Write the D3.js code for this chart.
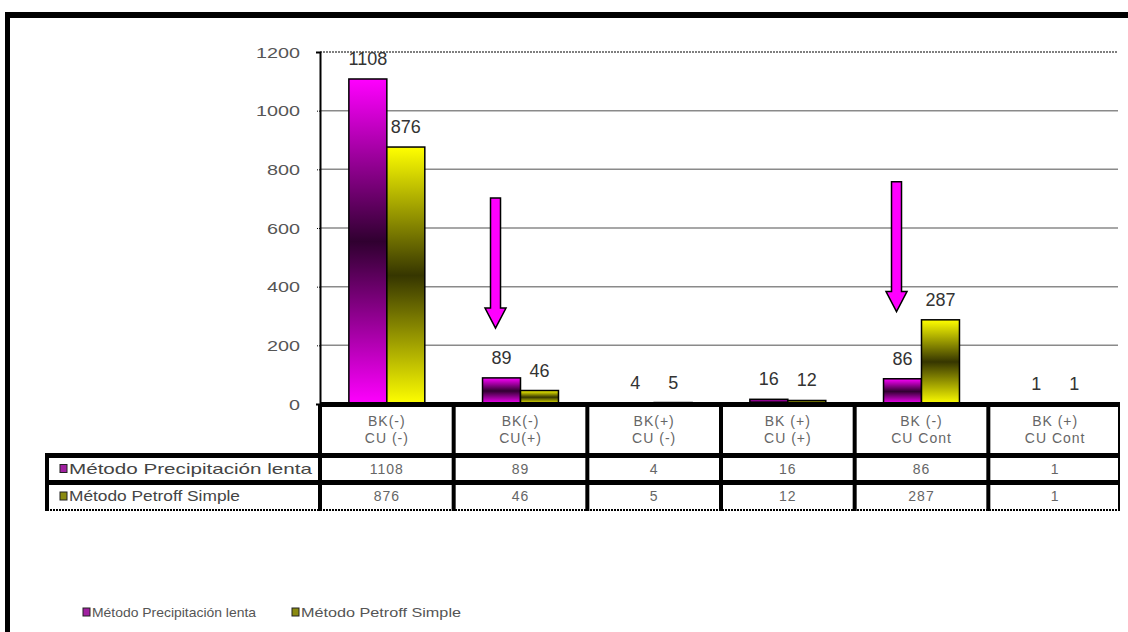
<!DOCTYPE html>
<html><head><meta charset="utf-8">
<script src="https://cdn.jsdelivr.net/npm/d3@7"></script>
<style>body{margin:0;background:#fff}svg{display:block}</style>
</head><body>
<script>
const categories = ["BK(-)|CU (-)", "BK(-)|CU(+)", "BK(+)|CU (-)", "BK (+)|CU (+)", "BK (-)|CU Cont", "BK (+)|CU Cont"];
const seriesNames = ["Método Precipitación lenta", "Método Petroff Simple"];
const precipitacion = [1108, 89, 4, 16, 86, 1];
const petroff = [876, 46, 5, 12, 287, 1];
const yTicks = [0, 200, 400, 600, 800, 1000, 1200];
// annotation arrows: category index, top value, tip value
const arrowCats = [1, 4];
const arrowTop = [702, 758];
const arrowTip = [259, 315];

const W = 1128, H = 632;
const svg = d3.select("body").append("svg").attr("width", W).attr("height", H);
const font = "Arial, 'Liberation Sans', sans-serif";

// frame
svg.append("rect").attr("x", 5).attr("y", 12).attr("width", W).attr("height", 6).attr("fill", "#000");
svg.append("rect").attr("x", 5).attr("y", 12).attr("width", 5).attr("height", H).attr("fill", "#000");

const x = d3.scaleBand().domain(d3.range(categories.length)).range([320, 1122]);
const xs = d3.scaleBand().domain([0, 1]).range([0, x.bandwidth()]).paddingInner(0).paddingOuter(0.76);
const y = d3.scaleLinear().domain([0, 1200]).range([404, 52]);

const defs = svg.append("defs");
function grad(id, bright, dark) {
  const g = defs.append("linearGradient").attr("id", id).attr("x1", 0).attr("y1", 0).attr("x2", 0).attr("y2", 1);
  g.append("stop").attr("offset", "0").attr("stop-color", bright);
  g.append("stop").attr("offset", "0.5").attr("stop-color", dark);
  g.append("stop").attr("offset", "1").attr("stop-color", bright);
}
grad("gm", "#ff00ff", "#300030");
grad("gy", "#ffff00", "#363600");
const fills = ["url(#gm)", "url(#gy)"];

// gridlines
svg.append("g").selectAll("line").data(yTicks.filter(d => d > 0)).join("line")
  .attr("x1", 320).attr("x2", 1118).attr("y1", d => y(d)).attr("y2", d => y(d))
  .attr("stroke", d => d === 1200 ? "#555" : "#8a8a8a").attr("stroke-width", 1.5)
  .attr("stroke-dasharray", d => d === 1200 ? "2,1" : null);

// y axis
const yAxis = d3.axisLeft(y).tickValues(yTicks).tickFormat(d3.format("d")).tickSize(4).tickPadding(16);
const ga = svg.append("g").attr("transform", "translate(320,0)").call(yAxis);
ga.select(".domain").attr("stroke", "#000").attr("stroke-width", 2);
ga.selectAll(".tick line").attr("stroke", "#000").attr("stroke-dasharray", "1,1");
ga.selectAll(".tick text").attr("font-family", font).attr("font-size", 15).attr("fill", "#555")
  .attr("textLength", d => String(d).length * 11).attr("lengthAdjust", "spacingAndGlyphs").attr("dy", "0.35em");

// bars
const seriesVals = [precipitacion, petroff];
const gb = svg.append("g");
seriesVals.forEach((vals, s) => {
  gb.selectAll(".b" + s).data(vals).join("rect")
    .attr("x", (d, i) => x(i) + xs(s)).attr("width", xs.bandwidth())
    .attr("y", d => y(d)).attr("height", d => y(0) - y(d))
    .attr("fill", fills[s]).attr("stroke", "#000").attr("stroke-width", 1.5);
  gb.selectAll(".l" + s).data(vals).join("text")
    .attr("x", (d, i) => x(i) + xs(s) + xs.bandwidth() / 2)
    .attr("y", d => y(d) - 14)
    .attr("text-anchor", "middle").attr("font-family", font).attr("font-size", 18).attr("fill", "#333")
    .text(d => d);
});

// arrows
arrowCats.forEach((c, k) => {
  const cx = x(c) + xs(0) + xs.bandwidth() / 2 - 6;
  const top = y(arrowTop[k]), tip = y(arrowTip[k]);
  const headH = 20, sw = 5, hw = 10.5;
  const p = [[cx - sw, top], [cx + sw, top], [cx + sw, tip - headH], [cx + hw, tip - headH], [cx, tip],
             [cx - hw, tip - headH], [cx - sw, tip - headH]];
  svg.append("path").attr("d", "M" + p.map(q => q.join(",")).join("L") + "Z")
    .attr("fill", "#ff00ff").attr("stroke", "#000").attr("stroke-width", 1.5);
});

// data table
const tableLeft = 47, tRight = 1120;
const rowY = [404, 455, 482, 510];
const gt = svg.append("g");
gt.append("rect").attr("x", 320).attr("y", 402).attr("width", tRight - 320).attr("height", 5).attr("fill", "#000");
gt.append("rect").attr("x", tableLeft).attr("y", rowY[1] - 2).attr("width", tRight - tableLeft).attr("height", 5).attr("fill", "#000");
gt.append("rect").attr("x", tableLeft).attr("y", rowY[2] - 2).attr("width", tRight - tableLeft).attr("height", 5).attr("fill", "#000");
gt.append("line").attr("x1", tableLeft).attr("x2", tRight).attr("y1", rowY[3]).attr("y2", rowY[3])
  .attr("stroke", "#000").attr("stroke-width", 2).attr("stroke-dasharray", "2,1");
gt.append("rect").attr("x", tableLeft - 2).attr("y", rowY[1] - 2).attr("width", 4).attr("height", rowY[3] - rowY[1] + 3).attr("fill", "#000");
const bounds = d3.range(categories.length).map(i => x(i)).concat([tRight]);
gt.selectAll(".v").data(bounds).join("rect")
  .attr("x", d => d - 2).attr("y", 404).attr("width", (d, i) => i === bounds.length - 1 ? 2 : 4)
  .attr("height", rowY[3] - 404 + 1).attr("fill", "#000");

// header text
categories.forEach((c, i) => {
  c.split("|").forEach((t, j) => {
    gt.append("text").attr("x", x(i) + x.bandwidth() / 2).attr("y", 426 + j * 17)
      .attr("text-anchor", "middle").attr("font-family", font).attr("font-size", 14)
      .attr("letter-spacing", "1px").attr("fill", "#666").text(t);
  });
});
// rows
const keyCols = ["#a020a0", "#8a8a10"];
const labelLen = [243, 171];
seriesVals.forEach((vals, s) => {
  const cy = (rowY[s + 1] + rowY[s + 2]) / 2;
  gt.append("rect").attr("x", 60).attr("y", cy - 4).attr("width", 7).attr("height", 8)
    .attr("fill", keyCols[s]).attr("stroke", "#222").attr("stroke-width", 1);
  gt.append("text").attr("x", 69).attr("y", cy + 5).attr("font-family", font).attr("font-size", 15)
    .attr("textLength", labelLen[s]).attr("lengthAdjust", "spacingAndGlyphs")
    .attr("fill", "#444").text(seriesNames[s]);
  gt.selectAll(".r" + s).data(vals).join("text")
    .attr("x", (d, i) => x(i) + x.bandwidth() / 2).attr("y", cy + 5)
    .attr("text-anchor", "middle").attr("font-family", font).attr("font-size", 14)
    .attr("letter-spacing", "1px").attr("fill", "#666")
    .text(d => d);
});

// legend
const legX = [83, 292];
const legLen = [164, 160];
seriesNames.forEach((n, s) => {
  svg.append("rect").attr("x", legX[s]).attr("y", 608).attr("width", 7).attr("height", 8)
    .attr("fill", keyCols[s]).attr("stroke", "#222").attr("stroke-width", 1);
  svg.append("text").attr("x", legX[s] + 9).attr("y", 617).attr("font-family", font).attr("font-size", 13)
    .attr("textLength", legLen[s]).attr("lengthAdjust", "spacingAndGlyphs")
    .attr("fill", "#555").text(n);
});
</script>
</body></html>
